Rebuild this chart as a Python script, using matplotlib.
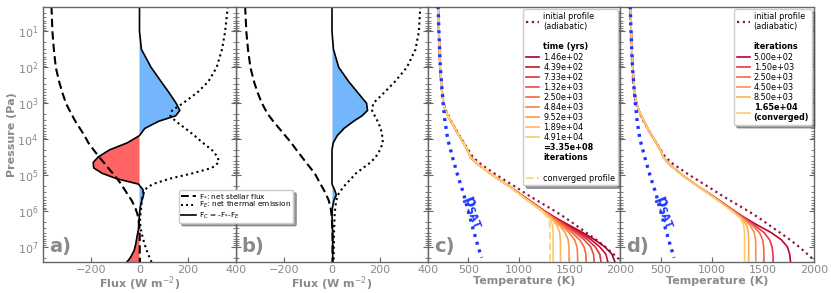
import numpy as np
import matplotlib
matplotlib.use('Agg')
import matplotlib.pyplot as plt
from matplotlib.lines import Line2D
from matplotlib.ticker import LogLocator, NullFormatter, FixedLocator

# ---------------- flux panels (a, b) ----------------
flux_logp = [0.3, 1.0, 1.5, 2.0, 2.4, 2.7, 3.0, 3.2, 3.35, 3.5, 3.7, 3.9, 4.1, 4.3, 4.5, 4.65,
             4.8, 4.95, 5.1, 5.25, 5.4, 5.55, 5.7, 5.9, 6.1, 6.3, 6.5, 6.7, 6.9, 7.1, 7.3, 7.42]

a_fstar = [-365, -361, -355, -347, -333, -320, -305, -290, -278, -266, -247, -228, -212, -190, -167, -148,
           -130, -111, -93, -76, -62, -48, -33, -18, -8, -3, 0, 1, 1, 1, 1, 1]
a_femit = [366, 355, 342, 320, 285, 240, 180, 135, 128, 150, 190, 228, 262, 300, 325, 328,
           300, 220, 125, 55, 22, 14, 10, 7, 4, 2, 5, 12, 20, 30, 42, 50]
a_fconv = [0, 0, 8, 48, 90, 122, 152, 167, 150, 80, 22, 0, -50, -125, -172, -192,
           -190, -155, -95, -5, 14, 17, 10, 3, 0, -3, -4, -10, -15, -22, -38, -52]

b_fstar = [-362, -357, -350, -340, -325, -310, -292, -276, -262, -245, -220, -195, -170, -148, -125, -108,
           -90, -72, -60, -48, -35, -24, -14, -6, -2, 0, 1, 2, 2, 2, 2, 2]
b_femit = [368, 362, 348, 312, 262, 218, 172, 167, 178, 190, 203, 209, 212, 200, 182, 160,
           130, 100, 80, 58, 40, 25, 18, 14, 11, 10, 9, 8, 8, 7, 7, 7]
b_fconv = [0, 0, 6, 28, 70, 107, 144, 148, 125, 90, 50, 22, 5, 0, 0, 0,
           0, 0, 0, 0, 10, 18, 8, 2, 0, 1, 2, 3, 3, 3, 3, 3]

flux_labels = [r'F$_{*}$: net stellar flux', r'F$_{E}$: net thermal emission',
               r'F$_{C}$ = -F$_{*}$-F$_{E}$']

# ---------------- temperature panels (c, d) ----------------
upper_logp = [0.3, 1.0, 2.0, 2.6, 3.0, 3.2, 3.5, 3.8, 4.1, 4.3, 4.5, 4.7, 5.0, 5.3]
deep_logp = [5.6, 5.8, 6.0, 6.2, 6.4, 6.6, 6.8, 7.0, 7.2, 7.42]

init_upper = [200, 207, 220, 235, 255, 278, 330, 390, 455, 500, 545, 625, 780, 950]
init_deep = [1115, 1235, 1355, 1465, 1565, 1665, 1765, 1855, 1935, 2020]

c_upper = [200, 207, 220, 235, 252, 272, 325, 385, 450, 490, 520, 595, 740, 900]
c_labels = ['1.46e+02', '4.39e+02', '7.33e+02', '1.32e+03', '2.50e+03',
            '4.84e+03', '9.52e+03', '1.89e+04', '4.91e+04']
c_deep = [
    [1050, 1150, 1255, 1370, 1500, 1630, 1750, 1850, 1920, 1950],
    [1048, 1148, 1252, 1362, 1485, 1605, 1715, 1800, 1860, 1880],
    [1046, 1146, 1250, 1355, 1470, 1580, 1680, 1755, 1800, 1812],
    [1044, 1144, 1248, 1350, 1455, 1555, 1645, 1710, 1738, 1745],
    [1042, 1142, 1245, 1343, 1440, 1525, 1600, 1645, 1662, 1666],
    [1040, 1140, 1242, 1336, 1420, 1495, 1550, 1575, 1580, 1581],
    [1038, 1137, 1238, 1328, 1400, 1457, 1487, 1495, 1496, 1496],
    [1036, 1134, 1234, 1318, 1375, 1403, 1410, 1411, 1411, 1411],
    [1034, 1131, 1228, 1305, 1333, 1338, 1338, 1338, 1338, 1338],
]
c_converged_deep = [1032, 1128, 1222, 1290, 1305, 1307, 1307, 1307, 1307, 1307]

d_upper = [203, 210, 225, 240, 262, 285, 335, 390, 455, 495, 525, 585, 710, 860]
d_labels = ['5.00e+02', '1.50e+03', '2.50e+03', '4.50e+03', '8.50e+03', '1.65e+04\n(converged)']
d_deep = [
    [1020, 1120, 1220, 1330, 1450, 1580, 1680, 1740, 1762, 1770],
    [1015, 1115, 1215, 1320, 1420, 1510, 1565, 1590, 1598, 1600],
    [1012, 1112, 1210, 1310, 1400, 1465, 1497, 1507, 1510, 1510],
    [1010, 1108, 1205, 1300, 1375, 1415, 1428, 1430, 1430, 1430],
    [1008, 1105, 1200, 1290, 1340, 1356, 1360, 1360, 1360, 1360],
    [1005, 1100, 1195, 1280, 1312, 1319, 1320, 1320, 1320, 1320],
]

psat_logp = [0.3, 1.0, 2.0, 3.0, 3.5, 4.0, 4.5, 5.0, 5.5, 6.0, 6.5, 7.0, 7.3]
psat_T = [200, 208, 222, 250, 268, 295, 342, 393, 450, 498, 546, 597, 630]

# ---------------- styles ----------------
GREY = '#8a8a8a'
SPINE = '#666666'
BLUE_FILL = '#74b6fb'
RED_FILL = '#ff6464'
INIT_COL = '#8c1a40'
PSAT_COL = '#1e35ff'
c_colors = ['#a3002f', '#c8102e', '#dc2f3a', '#ec4a3c', '#f5653f',
            '#fa7f45', '#fd9a4c', '#feb457', '#fec865']
c_conv_col = '#fdd37a'
d_colors = ['#c0002e', '#e9364a', '#f3664e', '#f98f50', '#fcaf56', '#fecb6c']

fig = plt.figure(figsize=(8.31, 2.93), dpi=100)
W, H = 831.0, 293.0
bottom = 1 - 262 / H
height = 255 / H
edges = [43, 236, 428, 620, 814]
axes = [fig.add_axes([edges[i] / W, bottom, (edges[i + 1] - edges[i]) / W, height]) for i in range(4)]
ax_a, ax_b, ax_c, ax_d = axes

for i, ax in enumerate(axes):
    ax.set_yscale('log')
    ax.set_ylim(10 ** 7.42, 10 ** 0.32)
    ax.yaxis.set_major_locator(FixedLocator([10.0 ** k for k in range(1, 8)]))
    ax.yaxis.set_minor_locator(LogLocator(base=10, subs=np.arange(2, 10), numticks=20))
    ax.yaxis.set_minor_formatter(NullFormatter())
    for s in ax.spines.values():
        s.set_color(SPINE)
        s.set_linewidth(1.0)
    ax.tick_params(axis='both', which='both', direction='in', colors=SPINE,
                   labelcolor=GREY, labelsize=8, right=True, top=False)
    ax.tick_params(axis='both', which='major', length=3.5)
    ax.tick_params(axis='both', which='minor', length=2)
    ax.tick_params(axis='x', pad=2)
    if i > 0:
        ax.tick_params(axis='y', labelleft=False)
    ax.text(0.03, 0.025, 'abcd'[i] + ')', transform=ax.transAxes, fontsize=14,
            fontweight='bold', color=GREY, ha='left', va='bottom')

ax_a.set_ylabel('Pressure (Pa)', fontsize=8, fontweight='bold', color=GREY, labelpad=0)

p_flux = 10.0 ** np.array(flux_logp)
for ax, fs, fe, fc in [(ax_a, a_fstar, a_femit, a_fconv), (ax_b, b_fstar, b_femit, b_fconv)]:
    fc_arr = np.array(fc, dtype=float)
    ax.fill_betweenx(p_flux, 0, fc_arr, where=fc_arr >= 0, interpolate=True,
                     color=BLUE_FILL, linewidth=0)
    ax.fill_betweenx(p_flux, 0, fc_arr, where=fc_arr <= 0, interpolate=True,
                     color=RED_FILL, linewidth=0)
    ax.plot(fs, p_flux, color='black', lw=1.5, ls=(0, (4, 2)))
    ax.plot(fe, p_flux, color='black', lw=1.5, ls=(0, (1, 1.6)))
    ax.plot(fc, p_flux, color='black', lw=1.2, ls='-')
    ax.set_xlim(-400, 400)
    ax.set_xticks([-200, 0, 200, 400])
    ax.set_xlabel(r'Flux (W m$^{-2}$)', fontsize=8, fontweight='bold', color=GREY, labelpad=0)

handles_a = [Line2D([], [], color='black', lw=1.4, ls=(0, (4, 2))),
             Line2D([], [], color='black', lw=1.4, ls=(0, (1, 1.6))),
             Line2D([], [], color='black', lw=1.2, ls='-')]
leg_a = ax_a.legend(handles_a, flux_labels, loc='upper left', bbox_to_anchor=(0.705, 0.282),
                    fontsize=5.3, frameon=True, fancybox=True, shadow=True, framealpha=1,
                    handlelength=2.0, labelspacing=0.02, borderpad=0.3, handletextpad=0.4,
                    borderaxespad=0.0)
leg_a.set_zorder(20)
ax_a.set_zorder(5)

# temperature panels
p_upper = 10.0 ** np.array(upper_logp)
p_deep = 10.0 ** np.array(deep_logp)
p_all = np.concatenate([p_upper, p_deep])
p_psat = 10.0 ** np.array(psat_logp)
T_init = init_upper + init_deep

blank = Line2D([], [], ls='none')
leg_kw = dict(loc='upper right', fontsize=5.9, frameon=True, fancybox=True, shadow=True,
              framealpha=1, handlelength=1.6, labelspacing=0.13, borderpad=0.35,
              handletextpad=0.45, borderaxespad=0.25)

# panel c
h_init_c, = ax_c.plot(T_init, p_all, color=INIT_COL, lw=1.6, ls=(0, (1, 1.6)), zorder=2)
c_handles = []
for k in range(len(c_deep)):
    h, = ax_c.plot(c_upper + c_deep[k], p_all, color=c_colors[k], lw=1.2, zorder=3)
    c_handles.append(h)
h_conv, = ax_c.plot(c_upper + c_converged_deep, p_all, color=c_conv_col, lw=1.3,
                    ls=(0, (4, 2)), zorder=4)
ax_c.plot(psat_T, p_psat, color=PSAT_COL, lw=2.4, ls=(0, (0.9, 1.5)), zorder=5)
ax_c.text(545, 10 ** 6.03, r'$\mathbf{p_{SAT}}$', color=PSAT_COL, fontsize=10.5,
          rotation=-68, ha='center', va='center')

leg_c_handles = [h_init_c, blank, blank] + c_handles + [blank, blank, h_conv]
leg_c_labels = ['initial profile\n(adiabatic)', ' ', 'time (yrs)'] + c_labels + \
               ['=3.35e+08\niterations', ' ', 'converged profile']
leg_c = ax_c.legend(leg_c_handles, leg_c_labels, **leg_kw)
for t in leg_c.get_texts():
    if t.get_text() in ('time (yrs)', '=3.35e+08\niterations'):
        t.set_fontweight('bold')

# panel d
h_init_d, = ax_d.plot(T_init, p_all, color=INIT_COL, lw=1.6, ls=(0, (1, 1.6)), zorder=2)
d_handles = []
for k in range(len(d_deep)):
    h, = ax_d.plot(d_upper + d_deep[k], p_all, color=d_colors[k], lw=1.2, zorder=3)
    d_handles.append(h)
ax_d.plot(psat_T, p_psat, color=PSAT_COL, lw=2.4, ls=(0, (0.9, 1.5)), zorder=5)
ax_d.text(540, 10 ** 6.03, r'$\mathbf{p_{SAT}}$', color=PSAT_COL, fontsize=10.5,
          rotation=-68, ha='center', va='center')

leg_d_handles = [h_init_d, blank, blank] + d_handles
leg_d_labels = ['initial profile\n(adiabatic)', ' ', 'iterations'] + d_labels
leg_d = ax_d.legend(leg_d_handles, leg_d_labels, **leg_kw)
for t in leg_d.get_texts():
    if t.get_text() in ('iterations', '1.65e+04\n(converged)'):
        t.set_fontweight('bold')

for ax in (ax_c, ax_d):
    ax.set_xlim(100, 2000)
    ax.set_xticks([500, 1000, 1500, 2000])
    ax.set_xlabel('Temperature (K)', fontsize=8, fontweight='bold', color=GREY, labelpad=1)

fig.savefig('out.png', dpi=100)
